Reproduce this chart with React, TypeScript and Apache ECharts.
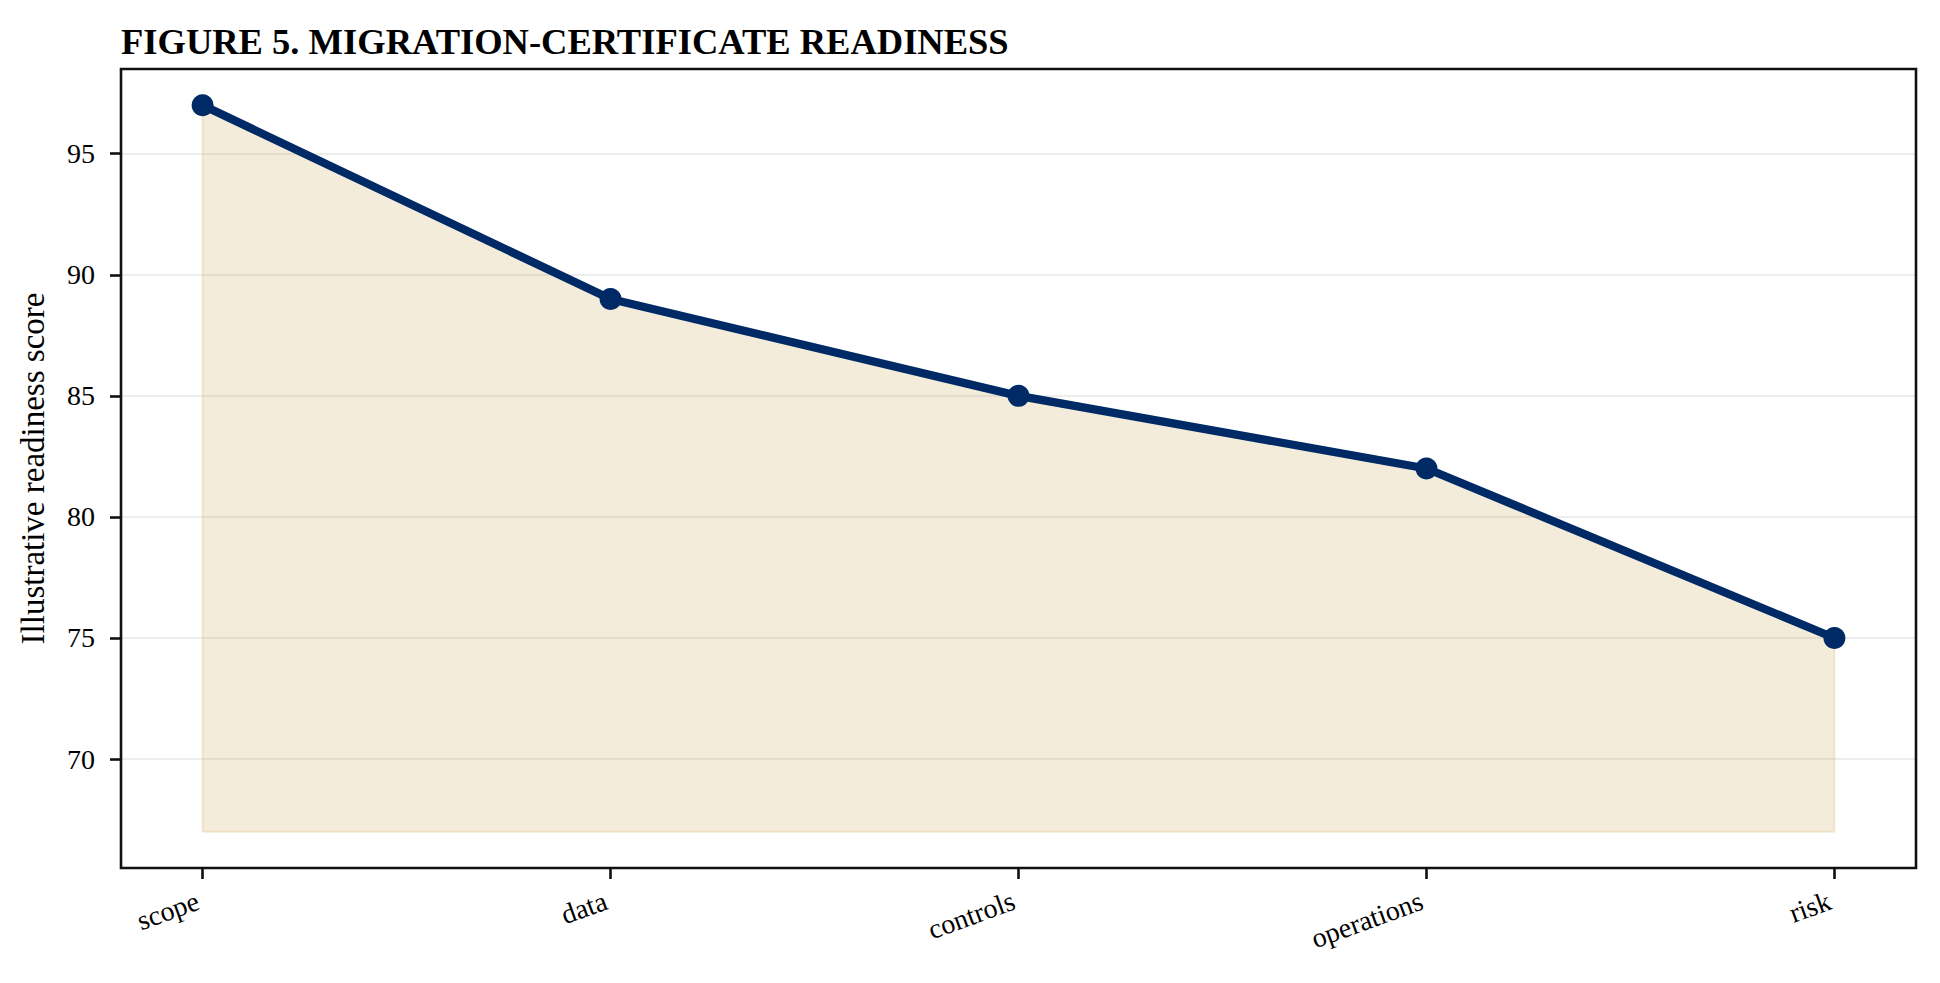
import React, { useEffect, useRef } from 'react';
import * as echarts from 'echarts';

const titleText = 'FIGURE 5. MIGRATION-CERTIFICATE READINESS';
const yAxisLabel = 'Illustrative readiness score';
const categories = ['scope', 'data', 'controls', 'operations', 'risk'];
const scores = [97, 89, 85, 82, 75];
const fillBase = 67;
const yTicks = [70, 75, 80, 85, 90, 95];

const NAVY = '#002a66';
const FONT = '"Liberation Serif", "Times New Roman", serif';

const App = () => {
    const chartRef = useRef<HTMLDivElement>(null);

    useEffect(() => {
        document.body.style.margin = '0';
        if (!chartRef.current) return;
        const myChart = echarts.init(chartRef.current, null, { renderer: 'svg' });

        // matplotlib-like 5% margins around the data range
        const hi = Math.max(...scores);
        const pad = (hi - fillBase) * 0.05;
        const last = categories.length - 1;
        const xIdx = categories.map((_, i) => i);

        // outline of the filled region (fill_between edge)
        const edge = [
            [0, scores[0]],
            [0, fillBase],
            [last, fillBase],
            [last, scores[last]],
        ];

        const option: any = {
            animation: false,
            backgroundColor: '#fff',
            title: {
                text: titleText,
                left: 121,
                top: 23,
                padding: 0,
                textStyle: {
                    fontFamily: FONT,
                    fontWeight: 'bold',
                    fontSize: 36.5,
                    color: '#000',
                },
            },
            grid: {
                left: 121,
                right: 24,
                top: 69,
                bottom: 115,
                show: true,
                borderColor: '#111',
                borderWidth: 2.6,
            },
            xAxis: {
                type: 'value',
                min: -0.2 * last / 4,
                max: last + 0.2 * last / 4,
                axisLine: { show: false, onZero: false },
                splitLine: { show: false },
                axisTick: {
                    show: true,
                    customValues: xIdx,
                    length: 11,
                    lineStyle: { color: '#111', width: 2.6 },
                },
                axisLabel: {
                    customValues: xIdx,
                    rotate: 20,
                    margin: 30,
                    padding: [0, 5, 0, 0],
                    fontFamily: FONT,
                    fontSize: 28,
                    color: '#000',
                    formatter: (v: number) => categories[Math.round(v)] ?? '',
                },
            },
            yAxis: {
                type: 'value',
                min: fillBase - pad,
                max: hi + pad,
                name: yAxisLabel,
                nameLocation: 'middle',
                nameGap: 72,
                nameTextStyle: {
                    fontFamily: FONT,
                    fontSize: 33,
                    color: '#000',
                },
                axisLine: { show: false, onZero: false },
                axisTick: {
                    show: true,
                    customValues: yTicks,
                    length: 11,
                    lineStyle: { color: '#111', width: 2.6 },
                },
                axisLabel: {
                    customValues: yTicks,
                    margin: 26,
                    fontFamily: FONT,
                    fontSize: 28,
                    color: '#000',
                },
                splitLine: {
                    show: true,
                    lineStyle: { color: 'rgba(0,0,0,0.07)', width: 2 },
                },
            },
            series: [
                {
                    type: 'line',
                    data: edge,
                    symbol: 'none',
                    silent: true,
                    lineStyle: { color: 'rgba(200,160,70,0.2)', width: 2 },
                    z: 1,
                },
                {
                    type: 'line',
                    data: scores.map((v, i) => [i, v]),
                    symbol: 'circle',
                    symbolSize: 22,
                    itemStyle: { color: NAVY },
                    lineStyle: { color: NAVY, width: 8.3 },
                    areaStyle: {
                        origin: fillBase,
                        color: 'rgba(200,160,70,0.2)',
                        opacity: 1,
                    },
                    z: 3,
                },
            ],
        };

        myChart.setOption(option);

        return () => {
            myChart.dispose();
        };
    }, []);

    return <div ref={chartRef} style={{ width: 1940, height: 983 }}></div>;
};

export default App;
